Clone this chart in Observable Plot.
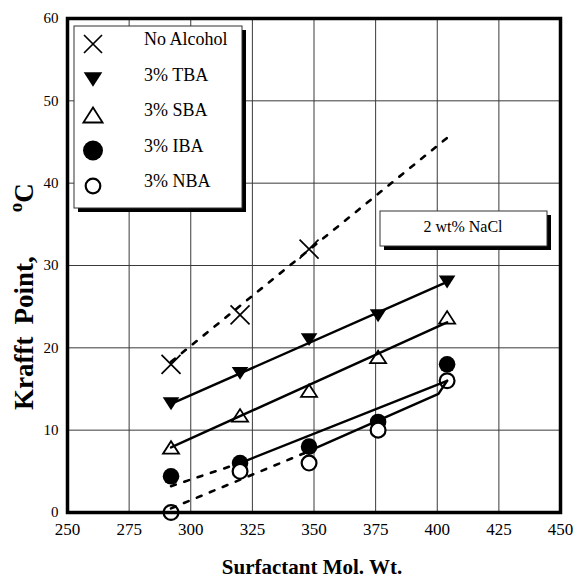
<!DOCTYPE html>
<html>
<head>
<meta charset="utf-8">
<script src="https://cdn.jsdelivr.net/npm/d3@7"></script>
<script src="https://cdn.jsdelivr.net/npm/@observablehq/plot@0.6"></script>
<style>
  body { margin: 0; background: #fff; }
  #chart { position: relative; width: 575px; height: 580px; }
  svg text { font-family: "Liberation Serif", "Times New Roman", serif; }
</style>
</head>
<body>
<div id="chart"></div>
<script>
// Surfactant molecular weights (x) and Krafft points in °C (y) for each series
const molWt = [292, 320, 348, 376, 404];
const noAlcohol = [18, 24, 32];
const tba = [13.2, 16.9, 21, 23.9, 28];
const sba = [7.9, 11.8, 14.8, 18.9, 23.7];
const iba = [4.4, 6, 8, 11, 18];
const nba = [0, 5, 6, 10, 16];

const seriesNames = ["No Alcohol", "3% TBA", "3% SBA", "3% IBA", "3% NBA"];
const xTicks = [250, 275, 300, 325, 350, 375, 400, 425, 450];
const yTicks = [0, 10, 20, 30, 40, 50, 60];

// Trend lines as [series, [[molWt, krafft], ...]]
const dashedFits = [
  ["No Alcohol", [[292, 18.3], [404, 45.5]]],
  ["3% IBA", [[292, 3.2], [320, 6]]],
  ["3% NBA", [[292, 0.5], [346, 7.2]]]
];
const solidFits = [
  ["3% TBA", [[292, 13.2], [404, 28]]],
  ["3% SBA", [[292, 7.9], [404, 23.1]]],
  ["3% IBA", [[320, 6], [404, 16]]],
  ["3% NBA", [[346, 7.2], [400.5, 14.4], [404, 16]]]
];
const annotation = "2 wt% NaCl";

// Custom marker shapes; radius r = half-width
const rOf = size => Math.sqrt(size / Math.PI);
const crossSymbol = { draw(ctx, size) { const r = rOf(size);
  ctx.moveTo(-r, -r); ctx.lineTo(r, r); ctx.moveTo(-r, r); ctx.lineTo(r, -r); } };
const triDownSymbol = { draw(ctx, size) { const r = rOf(size), h = r * 0.78;
  ctx.moveTo(-r, -h); ctx.lineTo(r, -h); ctx.lineTo(0, h); ctx.closePath(); } };
const triUpSymbol = { draw(ctx, size) { const r = rOf(size), h = r * 0.78;
  ctx.moveTo(-r, h); ctx.lineTo(r, h); ctx.lineTo(0, -h); ctx.closePath(); } };
const circleSymbol = d3.symbolCircle;

const seriesValues = [noAlcohol, tba, sba, iba, nba];
const markerStyle = {
  "No Alcohol": { symbol: crossSymbol, r: 9.5, fill: "none", stroke: "#000", strokeWidth: 1.7 },
  "3% TBA": { symbol: triDownSymbol, r: 8.3, fill: "#000", stroke: "none", strokeWidth: 0 },
  "3% SBA": { symbol: triUpSymbol, r: 8, fill: "#fff", stroke: "#000", strokeWidth: 1.8 },
  "3% IBA": { symbol: circleSymbol, r: 8.3, fill: "#000", stroke: "none", strokeWidth: 0 },
  "3% NBA": { symbol: circleSymbol, r: 7.4, fill: "#fff", stroke: "#000", strokeWidth: 2.2 }
};
const legendStyle = {
  "No Alcohol": { r: 9 }, "3% TBA": { r: 9.3 }, "3% SBA": { r: 9.6 },
  "3% IBA": { r: 10 }, "3% NBA": { r: 7.3 }
};

const points = seriesNames.map((name, i) =>
  seriesValues[i].map((k, j) => ({ series: name, molWt: molWt[j], krafft: k })));

const toRows = fits => fits.flatMap(([series, pts], i) =>
  pts.map(([x, y]) => ({ series, id: series + i, molWt: x, krafft: y })));

const dotMarks = seriesNames.map((name, i) => {
  const s = markerStyle[name];
  return Plot.dot(points[i], {
    x: "molWt", y: "krafft", symbol: s.symbol, r: s.r,
    fill: s.fill, stroke: s.stroke, strokeWidth: s.strokeWidth
  });
});

const plot = Plot.plot({
  width: 575,
  height: 580,
  marginLeft: 67,
  marginRight: 15,
  marginTop: 18,
  marginBottom: 68,
  style: { fontFamily: "'Liberation Serif', 'Times New Roman', serif", background: "#fff", color: "#000" },
  x: { domain: [250, 450], label: null },
  y: { domain: [0, 60], label: null },
  marks: [
    Plot.gridX(xTicks, { stroke: "#3a3a3a", strokeOpacity: 1, strokeWidth: 1 }),
    Plot.gridY(yTicks, { stroke: "#3a3a3a", strokeOpacity: 1, strokeWidth: 1 }),
    Plot.axisX(xTicks, { tickSize: 0, tickPadding: 10, fontSize: 17, label: null }),
    Plot.axisY(yTicks, { tickSize: 0, tickPadding: 9, fontSize: 15, label: null }),
    ...dotMarks,
    Plot.line(toRows(dashedFits), { x: "molWt", y: "krafft", z: "id", stroke: "#000",
      strokeWidth: 2.6, strokeDasharray: "5,9" }),
    Plot.line(toRows(solidFits), { x: "molWt", y: "krafft", z: "id", stroke: "#000",
      strokeWidth: 2.4 }),
    Plot.frame({ stroke: "#000", strokeWidth: 3.5 })
  ]
});

document.getElementById("chart").appendChild(plot);

const svg = d3.select(plot);
const font = "'Liberation Serif', 'Times New Roman', serif";

// Axis titles
svg.append("text")
  .attr("x", 312).attr("y", 574)
  .attr("text-anchor", "middle")
  .attr("font-family", font).attr("font-weight", "bold").attr("font-size", 21)
  .text("Surfactant Mol. Wt.");

const yTitle = svg.append("text")
  .attr("transform", "translate(33,410) rotate(-90)")
  .attr("text-anchor", "start")
  .attr("font-family", font).attr("font-weight", "bold").attr("font-size", 27);
yTitle.append("tspan").text("Krafft");
yTitle.append("tspan").attr("dx", 12).text("Point,");
yTitle.append("tspan").attr("dx", 44).attr("dy", -11).attr("font-size", 19).text("o");
yTitle.append("tspan").attr("dy", 11).text("C");

// Legend box with drop shadow
const legend = svg.append("g");
legend.append("rect").attr("x", 78).attr("y", 30).attr("width", 168).attr("height", 182).attr("fill", "#000");
legend.append("rect").attr("x", 74).attr("y", 26).attr("width", 168).attr("height", 182)
  .attr("fill", "#fff").attr("stroke", "#333").attr("stroke-width", 1);
seriesNames.forEach((name, i) => {
  const s = markerStyle[name];
  const cy = 44 + i * 35.5;
  legend.append("path")
    .attr("transform", `translate(93,${cy})`)
    .attr("d", d3.symbol().type(s.symbol).size(Math.PI * legendStyle[name].r ** 2)())
    .attr("fill", s.fill).attr("stroke", s.stroke).attr("stroke-width", s.strokeWidth);
  legend.append("text")
    .attr("x", 144).attr("y", cy - 3)
    .attr("text-anchor", "start")
    .attr("dominant-baseline", "middle")
    .attr("font-family", font).attr("font-size", 18)
    .text(name);
});

// Annotation box with drop shadow
const note = svg.append("g");
note.append("rect").attr("x", 384).attr("y", 215).attr("width", 167).attr("height", 35).attr("fill", "#000");
note.append("rect").attr("x", 380).attr("y", 211).attr("width", 167).attr("height", 35)
  .attr("fill", "#fff").attr("stroke", "#333").attr("stroke-width", 1);
note.append("text")
  .attr("x", 463).attr("y", 228.5)
  .attr("text-anchor", "middle").attr("dominant-baseline", "middle")
  .attr("font-family", font).attr("font-size", 16)
  .text(annotation);
</script>
</body>
</html>
